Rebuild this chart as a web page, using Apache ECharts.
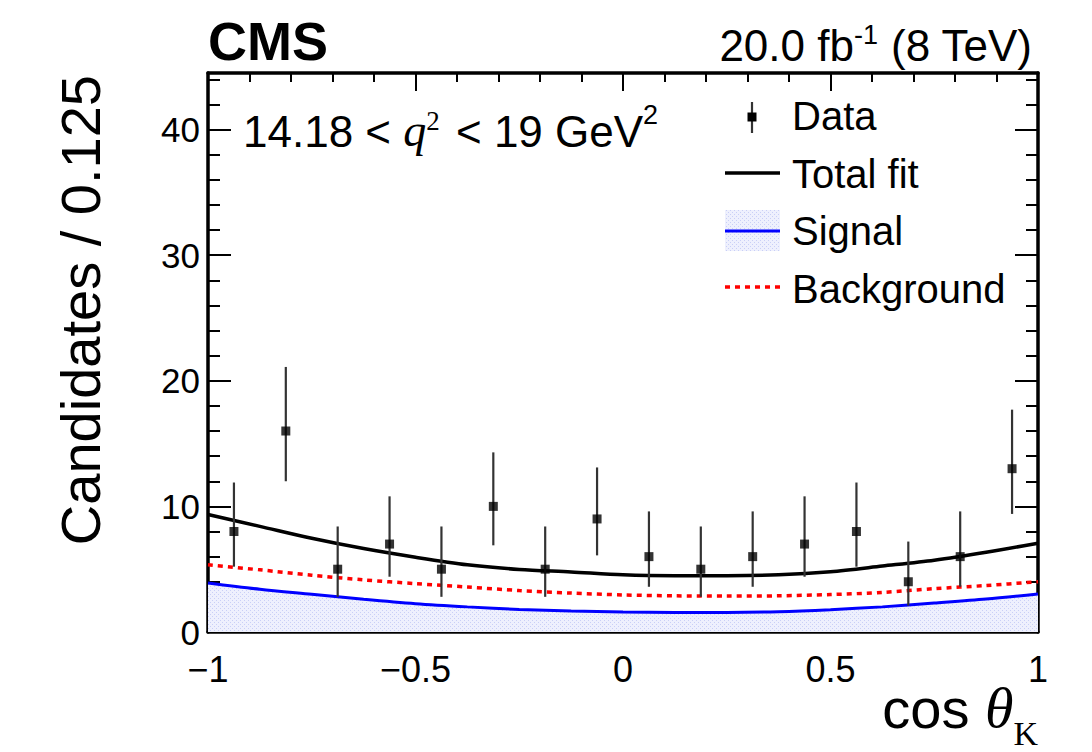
<!DOCTYPE html>
<html>
<head>
<meta charset="utf-8">
<title>cos θK fit, 14.18 &lt; q² &lt; 19 GeV²</title>
<script src="https://cdn.jsdelivr.net/npm/echarts@6/dist/echarts.min.js"></script>
<style>
  html, body { margin: 0; padding: 0; background: #fff; }
  #chart { width: 1092px; height: 752px; }
</style>
</head>
<body>
<div id="chart"></div>
<script>
  // data: 16 bins of 0.125 in cos(theta_K)
  var binCenters = [-0.9375, -0.8125, -0.6875, -0.5625, -0.4375, -0.3125, -0.1875, -0.0625,
                    0.0625, 0.1875, 0.3125, 0.4375, 0.5625, 0.6875, 0.8125, 0.9375];
  var counts = [8, 16, 5, 7, 5, 10, 5, 9, 6, 5, 6, 7, 8, 4, 6, 13];
  // error bar ends (lower / upper)
  var barLow = [5.2, 12.0, 2.8, 4.4, 2.8, 6.9, 2.8, 6.1, 3.6, 2.8, 3.6, 4.4, 5.2, 2.1, 3.6, 9.4];
  var barHigh = [11.9, 21.1, 8.4, 10.8, 8.4, 14.3, 8.4, 13.1, 9.6, 8.4, 9.6, 10.8, 11.9, 7.2, 9.6, 17.7];

  // fit curves, read every 0.125
  var curveX = [-1, -0.875, -0.75, -0.625, -0.5, -0.375, -0.25, -0.125, 0,
                0.125, 0.25, 0.375, 0.5, 0.625, 0.75, 0.875, 1];
  var totalFit = [9.35, 8.41, 7.46, 6.64, 5.95, 5.35, 4.98, 4.78, 4.55,
                  4.48, 4.48, 4.55, 4.8, 5.25, 5.72, 6.35, 7.07];
  var signal = [3.9, 3.4, 3.0, 2.6, 2.25, 2.0, 1.8, 1.68, 1.6,
                1.56, 1.56, 1.62, 1.78, 2.0, 2.3, 2.62, 3.03];
  var background = [5.35, 4.95, 4.52, 4.15, 3.85, 3.58, 3.3, 3.1, 2.95,
                    2.88, 2.86, 2.88, 2.98, 3.15, 3.45, 3.7, 4.0];

  var xRange = [-1, 1];
  var yRange = [0, 44.5];
  var legendNames = ['Data', 'Total fit', 'Signal', 'Background'];

  var FONT = 'Liberation Sans, Arial, Helvetica, sans-serif';
  var SERIF = 'Liberation Serif, Times New Roman, serif';

  function pairs(xs, ys) {
    return xs.map(function (x, i) { return [x, ys[i]]; });
  }

  // light blue dotted fill like the ROOT hatch
  function dotPattern() {
    var c = document.createElement('canvas');
    c.width = 4; c.height = 4;
    var g = c.getContext('2d');
    g.fillStyle = '#eef0fd';
    g.fillRect(0, 0, 4, 4);
    g.fillStyle = '#c9cff6';
    g.fillRect(0, 0, 1, 1);
    g.fillRect(2, 2, 1, 1);
    return { image: c, repeat: 'repeat' };
  }
  var fillPattern = dotPattern();

  function minusFmt(v) {
    return String(v).replace('-', '\u2212');
  }

  var tickLine = { color: '#000', width: 2 };

  function xAxisDef(pos, labels) {
    return {
      type: 'value', position: pos, min: xRange[0], max: xRange[1], interval: 0.5,
      axisLine: { onZero: false, lineStyle: { color: '#000', width: 3.5 } },
      axisTick: { inside: true, length: 18, lineStyle: tickLine },
      minorTick: { show: true, splitNumber: 5, length: 9, lineStyle: tickLine },
      splitLine: { show: false },
      axisLabel: {
        show: labels, margin: 19, fontSize: 36, lineHeight: 36, fontFamily: FONT, color: '#000',
        formatter: minusFmt
      }
    };
  }

  function yAxisDef(pos, interval, tickLen, main) {
    return {
      type: 'value', position: pos, min: yRange[0], max: yRange[1], interval: interval,
      axisLine: { show: main, onZero: false, lineStyle: { color: '#000', width: 3.5 } },
      axisTick: { inside: true, length: tickLen, lineStyle: tickLine },
      splitLine: { show: false },
      axisLabel: {
        show: main && pos === 'left', margin: 8, fontSize: 35, lineHeight: 28, fontFamily: FONT, color: '#000',
        formatter: function (v) { return v % 10 === 0 ? String(v) : ''; }
      }
    };
  }

  var chart = echarts.init(document.getElementById('chart'), null, { renderer: 'svg' });

  var option = {
    animation: false,
    backgroundColor: '#fff',
    grid: { left: 208, right: 54, top: 73, bottom: 120, containLabel: false },
    xAxis: [xAxisDef('bottom', true), xAxisDef('top', false)],
    yAxis: [
      yAxisDef('left', 10, 23, true),
      yAxisDef('left', 2, 12, false),
      yAxisDef('right', 10, 23, true),
      yAxisDef('right', 2, 12, false)
    ],
    series: [
      {
        name: 'Signal',
        type: 'line',
        data: pairs(curveX, signal),
        smooth: 0.3,
        showSymbol: false,
        lineStyle: { color: '#0000ff', width: 3 },
        areaStyle: { color: fillPattern, opacity: 1 },
        z: 2
      },
      {
        name: 'Background',
        type: 'line',
        data: pairs(curveX, background),
        smooth: 0.3,
        showSymbol: false,
        lineStyle: { color: '#ff0000', width: 3.5, type: [5, 5] },
        z: 3
      },
      {
        name: 'Total fit',
        type: 'line',
        data: pairs(curveX, totalFit),
        smooth: 0.3,
        showSymbol: false,
        lineStyle: { color: '#000', width: 3.5 },
        z: 4
      },
      {
        name: 'Data errors',
        type: 'custom',
        data: binCenters.map(function (x, i) { return [x, barLow[i], barHigh[i]]; }),
        encode: { x: 0, y: [1, 2] },
        renderItem: function (params, api) {
          var lo = api.coord([api.value(0), api.value(1)]);
          var hi = api.coord([api.value(0), api.value(2)]);
          return {
            type: 'line',
            shape: { x1: lo[0], y1: lo[1], x2: hi[0], y2: hi[1] },
            style: { stroke: '#333', lineWidth: 2.2 }
          };
        },
        z: 5
      },
      {
        name: 'Data',
        type: 'scatter',
        data: pairs(binCenters, counts),
        symbol: 'rect',
        symbolSize: 9,
        itemStyle: { color: '#000' },
        z: 6
      }
    ],
    graphic: [
      // CMS label and lumi
      {
        type: 'text', x: 208, y: 41,
        style: { text: 'CMS', fontSize: 54, fontWeight: 'bold', fontFamily: FONT, fill: '#000',
                 align: 'left', verticalAlign: 'middle' }
      },
      {
        type: 'text', x: 1032, y: 67,
        style: {
          text: '{n|20.0 fb}{s|-1}{n| (8 TeV)}', align: 'right', verticalAlign: 'bottom', fill: '#000',
          rich: {
            n: { fontSize: 44, fontFamily: FONT, verticalAlign: 'bottom' },
            s: { fontSize: 27, fontFamily: FONT, verticalAlign: 'bottom', padding: [0, 0, 19, 0] }
          }
        }
      },
      // q2 range
      {
        type: 'text', x: 243, y: 153,
        style: {
          text: '{n|14.18 < }{q|q}{s|2}{n| < 19 GeV}{g|2}', align: 'left', verticalAlign: 'bottom', fill: '#000',
          rich: {
            n: { fontSize: 44, fontFamily: FONT, verticalAlign: 'bottom' },
            q: { fontSize: 46, fontFamily: SERIF, fontStyle: 'italic', verticalAlign: 'bottom' },
            s: { fontSize: 27, fontFamily: SERIF, verticalAlign: 'bottom', padding: [0, 4, 19, 0] },
            g: { fontSize: 27, fontFamily: FONT, verticalAlign: 'bottom', padding: [0, 0, 25, 0] }
          }
        }
      },
      // axis titles
      {
        type: 'text', x: 80, y: 75, rotation: Math.PI / 2,
        style: { text: 'Candidates / 0.125', fontSize: 56, fontFamily: FONT, fill: '#000',
                 align: 'right', verticalAlign: 'middle' }
      },
      {
        type: 'text', x: 1038, y: 750,
        style: {
          text: '{c|cos }{t|\u03b8}{k|K}', align: 'right', verticalAlign: 'bottom', fill: '#000',
          rich: {
            c: { fontSize: 56, fontFamily: FONT, verticalAlign: 'bottom', padding: [0, 0, 14, 0] },
            t: { fontSize: 58, fontFamily: SERIF, fontStyle: 'italic', verticalAlign: 'bottom', padding: [0, 0, 14, 0] },
            k: { fontSize: 34, fontFamily: SERIF, verticalAlign: 'bottom' }
          }
        }
      },
      // legend
      { type: 'line', shape: { x1: 752, y1: 102, x2: 752, y2: 133 }, style: { stroke: '#333', lineWidth: 2.2 } },
      { type: 'rect', shape: { x: 747.5, y: 112.5, width: 9, height: 9 }, style: { fill: '#000' } },
      { type: 'line', shape: { x1: 725, y1: 173, x2: 780, y2: 173 }, style: { stroke: '#000', lineWidth: 3.5 } },
      { type: 'rect', shape: { x: 725, y: 210, width: 55, height: 41 }, style: { fill: fillPattern } },
      { type: 'line', shape: { x1: 725, y1: 231, x2: 780, y2: 231 }, style: { stroke: '#0000ff', lineWidth: 3 } },
      { type: 'line', shape: { x1: 725, y1: 287, x2: 780, y2: 287 }, style: { stroke: '#ff0000', lineWidth: 3.5, lineDash: [5, 5] } }
    ].concat(legendNames.map(function (name, i) {
      return {
        type: 'text', x: 792, y: 116 + i * 57.5,
        style: { text: name, fontSize: 40, fontFamily: FONT, fill: '#000', align: 'left', verticalAlign: 'middle' }
      };
    }))
  };

  chart.setOption(option);
</script>
</body>
</html>
